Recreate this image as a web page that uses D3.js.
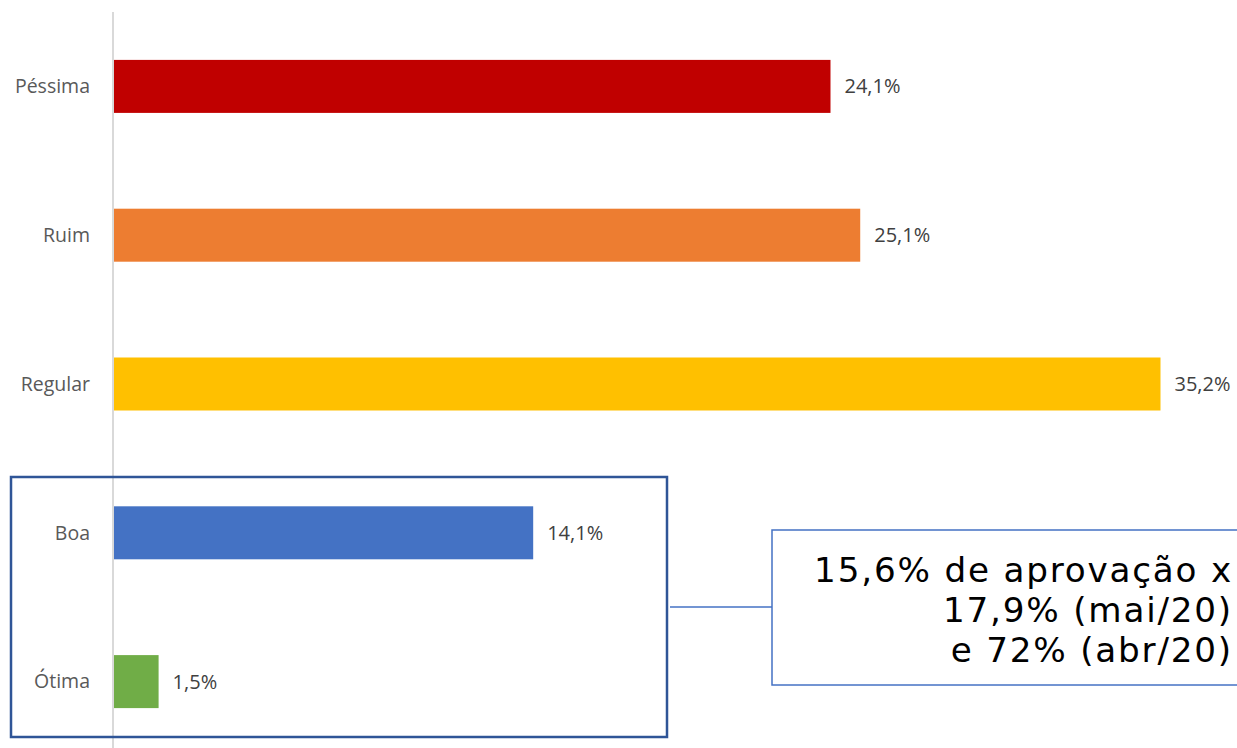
<!DOCTYPE html>
<html>
<head>
<meta charset="utf-8">
<script src="https://cdn.jsdelivr.net/npm/d3@7"></script>
<style>
  body { margin: 0; background: #fff; }
  svg { display: block; }
</style>
</head>
<body>
<svg id="mainSVG" width="1237" height="748"></svg>
<script>
var $svg = d3.select("#mainSVG");

// data
var categories = ['Péssima', 'Ruim', 'Regular', 'Boa', 'Ótima'];
var values = [24.1, 25.1, 35.2, 14.1, 1.5];
var valueLabels = ['24,1%', '25,1%', '35,2%', '14,1%', '1,5%'];
var barColors = ['#C00000', '#ED7D31', '#FFC000', '#4472C4', '#70AD47'];
var calloutLines = ['15,6% de aprovação x', '17,9% (mai/20)', 'e 72% (abr/20)'];

var axisX = 114;
var barH = 53;
var labelFont = 'Open Sans, Noto Sans, sans-serif';

var x = d3.scaleLinear().domain([0, 37.5]).range([axisX, axisX + 37.5 * 29.73]);
var y = d3.scalePoint().domain(categories).range([12, 756]).padding(0.5);

// bars
$svg.append('g').attr('id', 'bars')
    .selectAll('rect').data(values)
    .enter().append('rect')
    .attr('x', x(0))
    .attr('y', (d, i) => y(categories[i]) - barH / 2)
    .attr('width', d => x(d) - x(0))
    .attr('height', barH)
    .attr('fill', (d, i) => barColors[i]);

// category axis line
$svg.append('line')
    .attr('x1', axisX - 1).attr('x2', axisX - 1)
    .attr('y1', 12).attr('y2', 748)
    .attr('stroke', '#d9d9d9').attr('stroke-width', 2);

// category labels
$svg.append('g').attr('id', 'cat-labels')
    .selectAll('text').data(categories)
    .enter().append('text')
    .attr('x', 90)
    .attr('y', d => y(d))
    .attr('dy', '0.35em')
    .attr('text-anchor', 'end')
    .attr('font-family', labelFont)
    .attr('font-size', 19.5)
    .attr('fill', '#595959')
    .text(d => d);

// value labels
$svg.append('g').attr('id', 'value-labels')
    .selectAll('text').data(values)
    .enter().append('text')
    .attr('x', d => x(d) + 14)
    .attr('y', (d, i) => y(categories[i]))
    .attr('dy', '0.35em')
    .attr('font-family', labelFont)
    .attr('font-size', 20)
    .attr('fill', '#404040')
    .text((d, i) => valueLabels[i]);

// highlight box round Boa / Ótima
$svg.append('rect')
    .attr('x', 11).attr('y', 477)
    .attr('width', 656).attr('height', 260)
    .attr('fill', 'none')
    .attr('stroke', '#2F5597').attr('stroke-width', 2.5);

// connector
$svg.append('line')
    .attr('x1', 670).attr('x2', 772)
    .attr('y1', 607).attr('y2', 607)
    .attr('stroke', '#4472C4').attr('stroke-width', 1.5);

// callout box
$svg.append('rect')
    .attr('x', 772).attr('y', 530)
    .attr('width', 470).attr('height', 155)
    .attr('fill', '#fff')
    .attr('stroke', '#4472C4').attr('stroke-width', 1.5);

$svg.append('g').attr('id', 'callout')
    .selectAll('text').data(calloutLines)
    .enter().append('text')
    .attr('x', 1233)
    .attr('y', (d, i) => 582 + i * 40)
    .attr('text-anchor', 'end')
    .attr('font-family', 'DejaVu Sans, Verdana, sans-serif')
    .attr('font-size', 34.2)
    .attr('letter-spacing', 1.8)
    .attr('fill', '#000')
    .text(d => d);
</script>
</body>
</html>
